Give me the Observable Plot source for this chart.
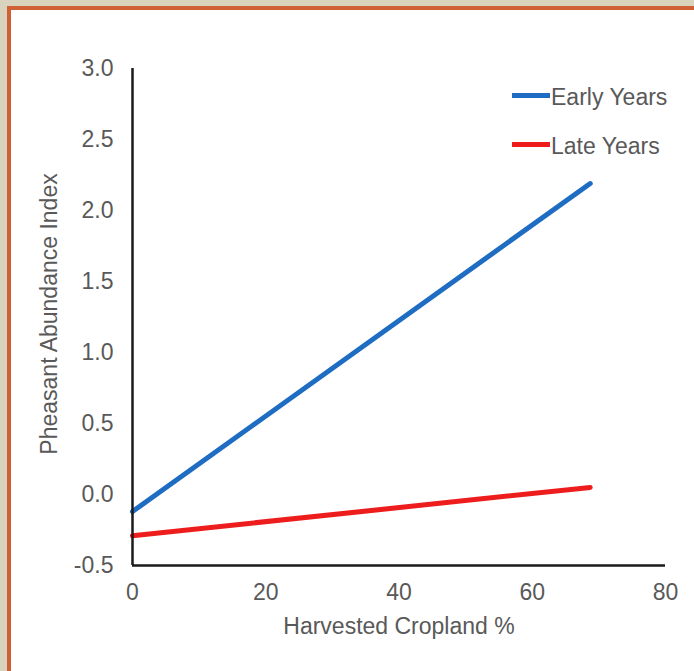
<!DOCTYPE html>
<html>
<head>
<meta charset="utf-8">
<script src="https://cdn.jsdelivr.net/npm/d3@7"></script>
<script src="https://cdn.jsdelivr.net/npm/@observablehq/plot@0.6"></script>
<style>
  html, body { margin: 0; padding: 0; background: #d9d3bd; width: 694px; height: 671px; overflow: hidden; }
  #frame { position: absolute; left: 7px; top: 6px; width: 683px; height: 661px; border-left: 4px solid #cf5f35; border-top: 4px solid #cf5f35; background: #fff; }
  #frame svg { display: block; }
  .leg { position: absolute; font-family: "Liberation Sans", Arial, sans-serif; font-size: 23px; line-height: 23px; color: #595959; white-space: nowrap; }
  .sw { position: absolute; height: 5px; }
</style>
</head>
<body>
<div id="frame"></div>
<script>
const seriesNames = ["Early Years", "Late Years"];
const seriesColors = ["#1f6dc2", "#ee1d1d"];
const xValues = [0, 68.7];
const earlyValues = [-0.12, 2.19];
const lateValues = [-0.29, 0.05];
const xTicks = [0, 20, 40, 60, 80];
const yTicks = [-0.5, 0, 0.5, 1.0, 1.5, 2.0, 2.5, 3.0];
const xLabel = "Harvested Cropland %";
const yLabel = "Pheasant Abundance Index";

const data = [
  ...xValues.map((x, i) => ({series: seriesNames[0], x, y: earlyValues[i]})),
  ...xValues.map((x, i) => ({series: seriesNames[1], x, y: lateValues[i]}))
];

const chart = Plot.plot({
  width: 683,
  height: 661,
  marginLeft: 121,
  marginRight: 29,
  marginTop: 58,
  marginBottom: 106,
  style: {fontFamily: "Liberation Sans, Arial, sans-serif", fontSize: "23px", color: "#595959", background: "#fff"},
  x: {domain: [0, 80], ticks: xTicks, tickSize: 0, tickPadding: 18, label: null},
  y: {domain: [-0.5, 3.0], ticks: yTicks, tickSize: 0, tickPadding: 19, tickFormat: d => d.toFixed(1), label: null},
  color: {domain: seriesNames, range: seriesColors},
  marks: [
    Plot.line(data, {x: "x", y: "y", stroke: "series", strokeWidth: 5, z: "series"}),
    Plot.ruleX([0], {stroke: "#1a1a1a", strokeWidth: 2.5}),
    Plot.ruleY([-0.5], {stroke: "#1a1a1a", strokeWidth: 2.5}),
    Plot.text([xLabel], {text: d => d, frameAnchor: "bottom", dy: 61, lineAnchor: "middle", textAnchor: "middle", fill: "#595959", fontSize: 23}),
    Plot.text([yLabel], {text: d => d, frameAnchor: "left", dx: -83, dy: -3, rotate: -90, lineAnchor: "middle", textAnchor: "middle", fill: "#595959", fontSize: 23})
  ]
});
document.getElementById("frame").appendChild(chart);

// legend
const legendTops = [95, 144];
seriesNames.forEach((name, i) => {
  const sw = document.createElement("div");
  sw.className = "sw";
  sw.style.left = "512px";
  sw.style.width = "38px";
  sw.style.top = (legendTops[i] - 2.5) + "px";
  sw.style.background = seriesColors[i];
  document.body.appendChild(sw);
  const t = document.createElement("div");
  t.className = "leg";
  t.style.left = "551px";
  t.style.top = (legendTops[i] - 9.5) + "px";
  t.textContent = name;
  document.body.appendChild(t);
});
</script>
</body>
</html>
